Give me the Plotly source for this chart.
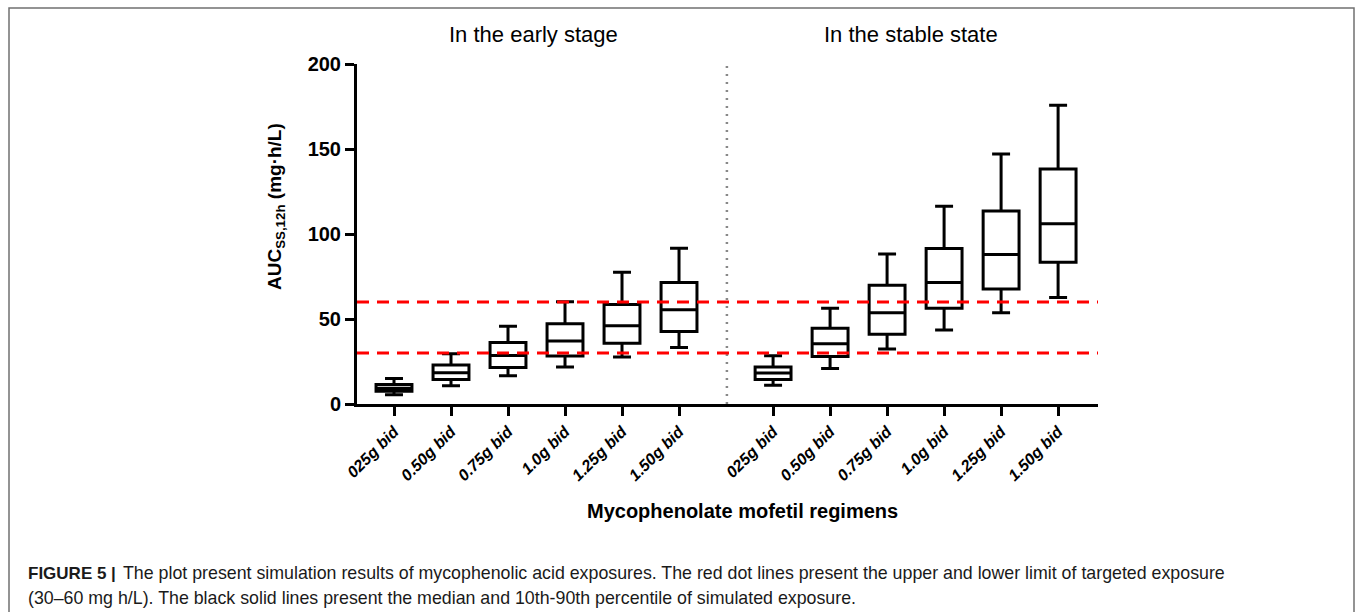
import plotly.graph_objects as go

# ---------------- data ----------------
regimens = ["025g bid", "0.50g bid", "0.75g bid", "1.0g bid", "1.25g bid", "1.50g bid"]
early_pos = [1, 2, 3, 4, 5, 6]
stable_pos = [7.65, 8.65, 9.65, 10.65, 11.65, 12.65]
divider_x = 6.84

early_p10 = [5.5, 10.7, 16.6, 21.7, 27.6, 33.3]
early_q1 = [7.5, 14.4, 21.5, 28.2, 35.8, 42.7]
early_med = [9.3, 18.4, 28.6, 37.0, 46.1, 55.5]
early_q3 = [11.5, 22.9, 36.2, 47.2, 58.6, 71.4]
early_p90 = [15.0, 29.6, 45.7, 60.2, 77.5, 91.6]

stable_p10 = [11.1, 20.9, 32.3, 43.5, 53.7, 62.7]
stable_q1 = [14.4, 28.0, 41.1, 56.3, 67.6, 83.4]
stable_med = [18.2, 35.4, 53.7, 71.4, 87.9, 106.1]
stable_q3 = [21.7, 44.5, 69.8, 91.4, 113.6, 138.3]
stable_p90 = [28.4, 56.3, 88.3, 116.3, 147.0, 175.8]

target_limits = [30, 60]
y_ticks = [0, 50, 100, 150, 200]

# ---------------- layout helpers ----------------
W, H = 1355, 612
L, R, T, B = 357, 1098, 64, 404


def px(x):
    return (x - L) / (R - L)


def py(y):
    return (B - y) / (B - T)


FONT = "Liberation Sans, Arial, sans-serif"

fig = go.Figure()

fig.add_trace(go.Box(
    x=early_pos + stable_pos,
    q1=early_q1 + stable_q1,
    median=early_med + stable_med,
    q3=early_q3 + stable_q3,
    lowerfence=early_p10 + stable_p10,
    upperfence=early_p90 + stable_p90,
    width=0.63,
    whiskerwidth=0.5,
    fillcolor="white",
    line=dict(color="black", width=3),
    boxpoints=False,
    hoverinfo="skip",
    showlegend=False,
))

# target exposure limits
for lim in target_limits:
    fig.add_shape(type="line", xref="paper", yref="y", x0=0, x1=1, y0=lim, y1=lim,
                  line=dict(color="#ff0000", width=3, dash="12px,8px"), layer="above")

# divider
fig.add_shape(type="line", xref="x", yref="paper", x0=divider_x, x1=divider_x, y0=0, y1=1,
              line=dict(color="#888888", width=2.5, dash="2px,6px"), layer="below")

# figure frame
fig.add_shape(type="rect", xref="paper", yref="paper",
              x0=px(9), x1=px(1354), y0=py(630), y1=py(8),
              line=dict(color="#707070", width=1.5), fillcolor="rgba(0,0,0,0)", layer="below")

ticktext = ["<b><i>%s</i></b>" % r for r in regimens] * 2

fig.update_xaxes(
    range=[0.351, 13.35],
    tickvals=early_pos + stable_pos,
    ticktext=ticktext,
    tickangle=-45,
    ticks="outside", ticklen=9, tickwidth=3, tickcolor="black",
    showline=True, linecolor="black", linewidth=3,
    showgrid=False, zeroline=False,
    tickfont=dict(family=FONT, size=16, color="black"),
)
fig.update_yaxes(
    range=[0, 200],
    tickvals=y_ticks,
    ticktext=["<b>%d</b>" % v for v in y_ticks],
    ticks="outside", ticklen=9, tickwidth=3, tickcolor="black",
    showline=True, linecolor="black", linewidth=3,
    showgrid=False, zeroline=False,
    tickfont=dict(family=FONT, size=20, color="black"),
)

CAP = "#1a1a1a"
annotations = [
    dict(text="In the early stage", x=px(533), y=py(34), font=dict(size=22)),
    dict(text="In the stable state", x=px(911), y=py(34), font=dict(size=22)),
    dict(text="<b>Mycophenolate mofetil regimens</b>", x=px(742), y=py(511), font=dict(size=20)),
    dict(text="<b>AUC<sub>SS,12h</sub> (mg·h/L)</b>", x=px(276), y=py(207), textangle=-90,
         font=dict(size=19)),
    dict(text="<b>FIGURE 5 |</b>", x=px(26), y=py(573), xanchor="left",
         font=dict(size=17, color=CAP)),
    dict(text="The plot present simulation results of mycophenolic acid exposures. "
              "The red dot lines present the upper and lower limit of targeted exposure",
         x=px(121), y=py(573), xanchor="left", font=dict(size=17.8, color=CAP)),
    dict(text="(30–60 mg h/L). The black solid lines present the median and 10th-90th percentile of simulated exposure.",
         x=px(26), y=py(598), xanchor="left", font=dict(size=17.8, color=CAP)),
]
for a in annotations:
    a.setdefault("xanchor", "center")
    a.update(xref="paper", yref="paper", yanchor="middle", showarrow=False)
    a["font"] = dict(family=FONT, color=a["font"].get("color", "black"), size=a["font"]["size"])
    fig.add_annotation(**a)

fig.update_layout(
    width=W, height=H,
    margin=dict(l=L, r=W - R, t=T, b=H - B, autoexpand=False),
    paper_bgcolor="white", plot_bgcolor="white",
    showlegend=False,
)

fig.write_html("out.html")
